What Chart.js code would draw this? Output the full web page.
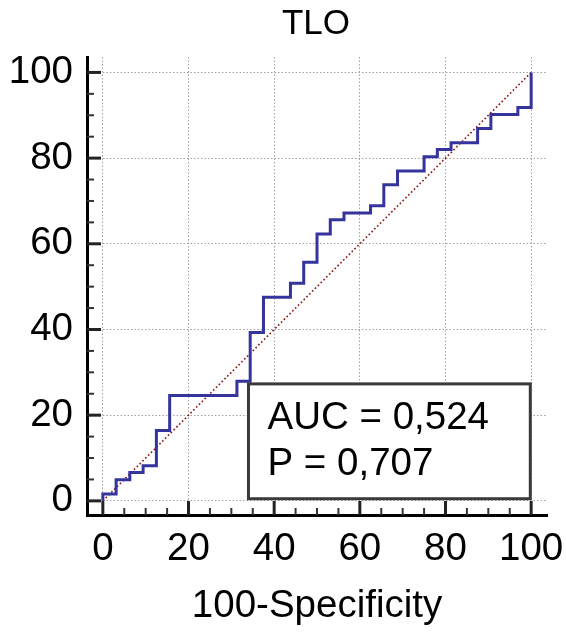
<!DOCTYPE html>
<html>
<head>
<meta charset="utf-8">
<script src="https://cdn.jsdelivr.net/npm/chart.js@4/dist/chart.umd.min.js"></script>
<style>
  html, body { margin: 0; padding: 0; background: #fff; }
  #wrap { width: 566px; height: 633px; }
</style>
</head>
<body>
<div id="wrap"><canvas id="c" width="566" height="633"></canvas></div>
<script>
// ROC curve corner points (100-Specificity, Sensitivity)
const rocX = [0,0,3.1,3.1,6.3,6.3,9.4,9.4,12.5,12.5,15.6,15.6,31.3,31.3,34.4,34.4,37.5,37.5,43.8,43.8,46.9,46.9,50,50,53.1,53.1,56.3,56.3,62.5,62.5,65.6,65.6,68.8,68.8,75,75,78.1,78.1,81.3,81.3,87.5,87.5,90.6,90.6,96.9,96.9,100,100];
const rocY = [0,1.6,1.6,4.9,4.9,6.6,6.6,8.2,8.2,16.4,16.4,24.6,24.6,27.9,27.9,39.3,39.3,47.5,47.5,50.8,50.8,55.7,55.7,62.3,62.3,65.6,65.6,67.2,67.2,68.9,68.9,73.8,73.8,77.0,77.0,80.3,80.3,82.0,82.0,83.6,83.6,86.9,86.9,90.2,90.2,91.8,91.8,100];
// Reference diagonal
const diagX = [0, 100];
const diagY = [0, 100];
// Texts
const chartTitle = 'TLO';
const xTitle = '100-Specificity';
const statLines = ['AUC = 0,524', 'P = 0,707'];
// Axis tick values
const majorTicks = [0, 20, 40, 60, 80, 100];
const minorStep = 5;

const FONT = "'Liberation Sans', Arial, Helvetica, sans-serif";
const FS = 38.5;

const toPts = (xs, ys) => xs.map((x, i) => ({ x: x, y: ys[i] }));

const titlePlugin = {
  id: 'topTitle',
  afterDraw(chart) {
    const { ctx, chartArea } = chart;
    ctx.save();
    ctx.fillStyle = '#000';
    ctx.font = '35px ' + FONT;
    ctx.textAlign = 'center';
    ctx.textBaseline = 'middle';
    ctx.fillText(chartTitle, (chartArea.left + chartArea.right) / 2 - 1, 24);
    ctx.restore();
  }
};

const tickPlugin = {
  id: 'innerTicks',
  beforeDatasetsDraw(chart) {
    const { ctx, chartArea, scales } = chart;
    ctx.save();
    for (let v = 0; v <= 100; v += minorStep) {
      const major = majorTicks.includes(v);
      const len = major ? 14 : 7;
      ctx.strokeStyle = major ? '#222' : '#333';
      ctx.lineWidth = major ? 3 : 2;
      const px = scales.x.getPixelForValue(v);
      ctx.beginPath();
      ctx.moveTo(px, chartArea.bottom);
      ctx.lineTo(px, chartArea.bottom - len);
      ctx.stroke();
      const py = scales.y.getPixelForValue(v);
      ctx.beginPath();
      ctx.moveTo(chartArea.left, py);
      ctx.lineTo(chartArea.left + len, py);
      ctx.stroke();
    }
    ctx.restore();
  }
};

const boxPlugin = {
  id: 'statBox',
  afterDatasetsDraw(chart) {
    const { ctx, scales } = chart;
    const l = scales.x.getPixelForValue(34.0);
    const r = scales.x.getPixelForValue(99.8);
    const t = scales.y.getPixelForValue(27.3);
    const b = scales.y.getPixelForValue(0.5);
    ctx.save();
    ctx.fillStyle = '#fff';
    ctx.fillRect(l, t, r - l, b - t);
    ctx.strokeStyle = '#3a3a3a';
    ctx.lineWidth = 3;
    ctx.strokeRect(l, t, r - l, b - t);
    ctx.fillStyle = '#000';
    ctx.font = FS + 'px ' + FONT;
    ctx.textAlign = 'left';
    ctx.textBaseline = 'alphabetic';
    ctx.fillText(statLines[0], l + 19, t + 45);
    ctx.fillText(statLines[1], l + 19, t + 91);
    ctx.restore();
  }
};

const gridColor = (c) => (majorTicks.includes(c.tick && c.tick.value) ? '#a0a0a0' : 'rgba(0,0,0,0)');

new Chart(document.getElementById('c'), {
  type: 'line',
  data: {
    datasets: [
      {
        data: toPts(rocX, rocY),
        borderColor: '#34349c',
        borderWidth: 3,
        pointRadius: 0,
        fill: false,
        tension: 0,
        borderJoinStyle: 'miter',
        borderCapStyle: 'butt'
      },
      {
        data: toPts(diagX, diagY),
        borderColor: '#8b1010',
        borderWidth: 1.6,
        borderDash: [1.6, 2.4],
        pointRadius: 0,
        fill: false
      }
    ]
  },
  options: {
    responsive: false,
    animation: false,
    devicePixelRatio: 1,
    layout: { padding: { top: 57, right: 19, left: 0, bottom: 0 } },
    plugins: { legend: { display: false }, tooltip: { enabled: false }, title: { display: false } },
    scales: {
      x: {
        type: 'linear',
        min: -3.7,
        max: 103.7,
        afterFit(s) { s.height = 118; s.paddingLeft = 0; s.paddingRight = 0; },
        border: { display: true, color: '#000', width: 3, dash: [1.5, 2] },
        grid: { color: gridColor, lineWidth: 1, drawTicks: false },
        ticks: {
          stepSize: minorStep,
          includeBounds: false,
          autoSkip: false,
          maxRotation: 0,
          padding: 11,
          color: '#000',
          font: { size: FS, family: FONT },
          callback: (v) => (majorTicks.includes(v) ? String(v) : '')
        },
        title: {
          display: true,
          text: xTitle,
          color: '#000',
          font: { size: FS, family: FONT },
          padding: { top: 0, bottom: 4 }
        }
      },
      y: {
        type: 'linear',
        min: -3.3,
        max: 103.6,
        afterFit(s) { s.width = 87; s.paddingTop = 0; s.paddingBottom = 0; },
        border: { display: true, color: '#000', width: 3, dash: [1.5, 2] },
        grid: { color: gridColor, lineWidth: 1, drawTicks: false },
        ticks: {
          stepSize: minorStep,
          includeBounds: false,
          autoSkip: false,
          padding: 14,
          color: '#000',
          font: { size: FS, family: FONT },
          callback: (v) => (majorTicks.includes(v) ? String(v) : '')
        }
      }
    }
  },
  plugins: [tickPlugin, boxPlugin, titlePlugin]
});
</script>
</body>
</html>
